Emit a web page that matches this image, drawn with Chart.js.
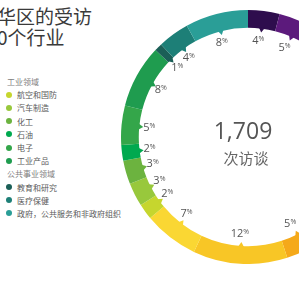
<!DOCTYPE html>
<html>
<head>
<meta charset="utf-8">
<script src="https://cdn.jsdelivr.net/npm/chart.js@4.4.1/dist/chart.umd.min.js"></script>
<style>
  html, body { margin: 0; padding: 0; background: #fff; }
  body { width: 299px; height: 300px; overflow: hidden; position: relative; font-family: "Open Sans", "Noto Sans CJK SC", sans-serif; }
  .title { position: absolute; left: -3px; top: 5px; font-size: 19px; line-height: 21px; color: #3a3a3a; font-family: "Noto Sans CJK SC", sans-serif; white-space: nowrap; }
  .legend { position: absolute; left: 6px; top: 75px; font-family: "Noto Sans CJK SC", sans-serif; font-size: 8px; color: #5a5a5a; }
  .legend div { height: 13.2px; line-height: 13.2px; white-space: nowrap; }
  .legend .head { color: #808080; padding-left: 1px; }
  .legend .item { padding-left: 11px; position: relative; }
  .legend .item span { position: absolute; left: 0; top: 3.6px; width: 6px; height: 6px; border-radius: 50%; }
  #wrap { position: absolute; left: 121px; top: 10px; width: 254px; height: 254px; }
</style>
</head>
<body>
<div class="title">华区的受访<br>0个行业</div>
<div class="legend" id="legend"></div>
<div id="wrap"><canvas id="ring" width="254" height="254"></canvas></div>
<script>
// clockwise from the top
const categories = ['其他A', '其他B', '其他C', '其他D', '其他E', '其他F',
    '航空和国防', '汽车制造', '化工', '石油', '电子', '工业产品',
    '教育和研究', '医疗保健', '政府，公共服务和非政府组织'];
const values = [4, 5, 31, 5, 12, 7, 2, 3, 3, 2, 5, 8, 1, 4, 8];
const ringColors = ['#2e0d4d', '#5c1a7c', '#b0306a', '#f5a91a', '#f8c626', '#fad733',
    '#c6d62e', '#98c83c', '#6cb33f', '#00a94f', '#34a64a', '#1f9c4f',
    '#1b5f57', '#1d7f77', '#2a9e97'];
const totalInterviews = '1,709';
const centerLabel = '次访谈';

const groupNames = ['工业领域', '公共事业领域'];
const groupMembers = [
    ['航空和国防', '汽车制造', '化工', '石油', '电子', '工业产品'],
    ['教育和研究', '医疗保健', '政府，公共服务和非政府组织']
];

const legend = document.getElementById('legend');
groupNames.forEach((g, gi) => {
    const h = document.createElement('div');
    h.className = 'head';
    h.textContent = g;
    legend.appendChild(h);
    groupMembers[gi].forEach(name => {
        const row = document.createElement('div');
        row.className = 'item';
        const dot = document.createElement('span');
        dot.style.background = ringColors[categories.indexOf(name)];
        row.appendChild(dot);
        row.appendChild(document.createTextNode(name));
        legend.appendChild(row);
    });
});

const ringMarks = {
    id: 'ringMarks',
    afterDatasetsDraw(chart) {
        const ctx = chart.ctx;
        const meta = chart.getDatasetMeta(0);
        ctx.save();
        meta.data.forEach((arc, i) => {
            const p = arc.getProps(['x', 'y', 'startAngle', 'endAngle', 'innerRadius'], true);
            const mid = (p.startAngle + p.endAngle) / 2;
            const r0 = p.innerRadius;
            const half = 3 / r0;
            // little notch on the inner edge
            ctx.fillStyle = ringColors[i];
            ctx.beginPath();
            ctx.moveTo(p.x + Math.cos(mid - half) * (r0 + 1), p.y + Math.sin(mid - half) * (r0 + 1));
            ctx.lineTo(p.x + Math.cos(mid) * (r0 - 4), p.y + Math.sin(mid) * (r0 - 4));
            ctx.lineTo(p.x + Math.cos(mid + half) * (r0 + 1), p.y + Math.sin(mid + half) * (r0 + 1));
            ctx.closePath();
            ctx.fill();
            // percent label
            const lr = r0 - 12;
            const lx = p.x + Math.cos(mid) * lr;
            const ly = p.y + Math.sin(mid) * lr;
            const num = String(values[i]);
            ctx.font = '11px "Open Sans"';
            const w1 = ctx.measureText(num).width;
            ctx.font = '7px "Open Sans"';
            const w2 = ctx.measureText('%').width;
            const x0 = lx - (w1 + w2) / 2 - 2;
            ctx.fillStyle = '#555';
            ctx.textAlign = 'left';
            ctx.textBaseline = 'middle';
            ctx.font = '11px "Open Sans"';
            ctx.fillText(num, x0, ly);
            ctx.font = '7px "Open Sans"';
            ctx.fillText('%', x0 + w1, ly - 2);
        });
        // centre text
        const c = meta.data[0].getProps(['x', 'y'], true);
        ctx.textAlign = 'center';
        ctx.textBaseline = 'middle';
        ctx.fillStyle = '#555';
        ctx.font = '23px "Open Sans"';
        ctx.fillText(totalInterviews, c.x - 5, c.y - 5);
        ctx.fillStyle = '#666';
        ctx.font = '15px "Noto Sans CJK SC"';
        ctx.fillText(centerLabel, c.x - 2, c.y + 21);
        ctx.restore();
    }
};

new Chart(document.getElementById('ring').getContext('2d'), {
    type: 'doughnut',
    data: {
        labels: categories,
        datasets: [{
            data: values,
            backgroundColor: ringColors,
            borderWidth: 0
        }]
    },
    options: {
        responsive: false,
        animation: false,
        cutout: '86%',
        layout: { padding: 0 },
        plugins: { legend: { display: false }, tooltip: { enabled: false } }
    },
    plugins: [ringMarks]
});
</script>
</body>
</html>
